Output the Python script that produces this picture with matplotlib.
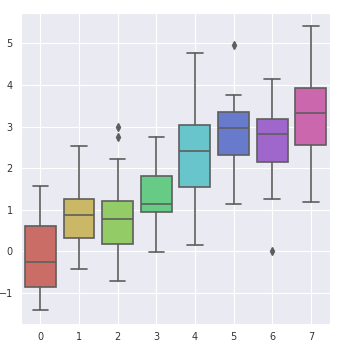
import matplotlib
matplotlib.use("Agg")
import matplotlib.pyplot as plt
import seaborn as sns

sns.set_style("darkgrid")
plt.rcParams['font.family'] = ['DejaVu Sans']

categories = ["0", "1", "2", "3", "4", "5", "6", "7"]
whislo = [-1.41, -0.43, -0.71, -0.02, 0.14, 1.14, 1.26, 1.19]
q1 = [-0.85, 0.33, 0.18, 0.94, 1.54, 2.31, 2.15, 2.55]
med = [-0.26, 0.87, 0.78, 1.14, 2.42, 2.96, 2.83, 3.33]
q3 = [0.60, 1.26, 1.20, 1.82, 3.03, 3.34, 3.18, 3.93]
whishi = [1.57, 2.52, 2.22, 2.74, 4.77, 3.76, 4.15, 5.42]
fliers = [[], [], [3.00, 2.74], [], [], [4.96], [0.01], []]

colors = sns.color_palette("hls", 8, desat=0.75)
gray = "#5e5e5e"

fig = plt.figure(figsize=(3.4, 3.5), dpi=100)
ax = fig.add_axes([0.062, 0.074, 0.909, 0.889])

stats = []
for i in range(len(categories)):
    stats.append(dict(med=med[i], q1=q1[i], q3=q3[i], whislo=whislo[i],
                      whishi=whishi[i], fliers=fliers[i], label=categories[i]))

lw = 1.2
bp = ax.bxp(stats, positions=range(len(categories)), widths=0.8, patch_artist=True,
            showfliers=True,
            boxprops=dict(edgecolor=gray, linewidth=lw),
            medianprops=dict(color=gray, linewidth=lw),
            whiskerprops=dict(color=gray, linewidth=lw),
            capprops=dict(color=gray, linewidth=lw),
            flierprops=dict(marker="d", markerfacecolor=gray, markeredgecolor=gray,
                            markersize=4, linestyle="none"),
            capwidths=0.4)
for patch, c in zip(bp["boxes"], colors):
    patch.set_facecolor(c)

ax.set_xlim(-0.5, 7.5)
ax.set_ylim(-1.75, 5.73)
ax.set_yticks([-1, 0, 1, 2, 3, 4, 5])
ax.tick_params(axis="both", labelsize=7, colors="#333333", length=0, pad=6)
ax.set_xticks(range(len(categories)))
ax.set_xticklabels(categories)

fig.savefig("out.png", dpi=100)
